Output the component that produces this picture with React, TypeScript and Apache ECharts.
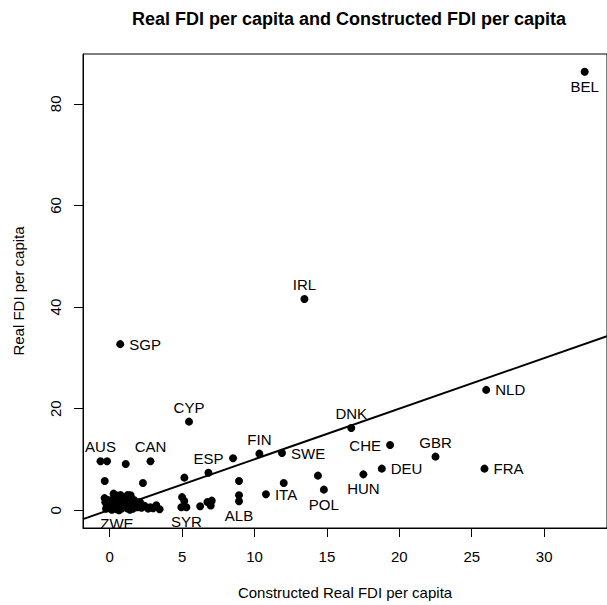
import React, { useEffect, useRef } from "react";
import * as echarts from "echarts";

// Axis ticks
const xTicks = [0, 5, 10, 15, 20, 25, 30];
const yTicks = [0, 20, 40, 60, 80];
const X_MIN = -1.84;
const X_MAX = 34.34;
const Y_MIN = -3.48;
const Y_MAX = 89.8;

// Fitted line y = intercept + slope * x
const lineIntercept = 0.1;
const lineSlope = 0.995;

// Labelled countries
const labeledNames = ["BEL", "IRL", "SGP", "CYP", "NLD", "DNK", "CHE", "GBR", "DEU", "FRA", "HUN", "POL", "SWE", "FIN", "ESP", "ITA", "ALB", "SYR", "ZWE", "AUS", "CAN"];
const labeledX = [32.8, 13.45, 0.73, 5.48, 26.0, 16.68, 19.36, 22.5, 18.79, 25.88, 17.52, 14.79, 11.9, 10.34, 6.82, 10.79, 8.93, 5.3, 0.5, -0.63, 2.82];
const labeledY = [86.3, 41.6, 32.7, 17.45, 23.7, 16.2, 12.85, 10.56, 8.2, 8.2, 7.08, 4.07, 11.27, 11.15, 7.4, 3.15, 1.77, 0.6, 0.2, 9.64, 9.64];
const labeledSide = ["bottom", "top", "right", "top", "right", "top", "left", "top", "right", "right", "bottom", "bottom", "right", "top", "top", "right", "bottom", "bottom", "bottom", "top", "top"];

// Unlabelled countries
const otherX = [
  -0.18, 1.11, 8.52, -0.34, 2.3, 5.16, 8.93, 12.02, 14.38, 8.93,
  5.0, 5.15, 4.95, 6.25, 6.75, 7.05, 6.98,
  -0.35, -0.3, -0.2, -0.1, 0.0, 0.1, 0.2, 0.27, 0.3, 0.35,
  0.45, 0.5, 0.55, 0.6, 0.7, 0.75, 0.8, 0.85, 0.9, 1.0,
  1.05, 1.1, 1.2, 1.25, 1.3, 1.45, 1.5, 1.6, 1.7, 1.8,
  1.9, 2.0, 2.09, 2.2, 2.4, 2.66, 2.8, 3.0, 3.22, 3.45,
  0.15, 0.65, 1.4, -0.25
];
const otherY = [
  9.64, 9.1, 10.23, 5.77, 5.37, 6.43, 5.77, 5.37, 6.82, 2.95,
  2.6, 1.85, 0.6, 0.8, 1.64, 1.9, 0.95,
  2.4, 1.6, 0.9, 2.0, 1.3, 0.5, 1.8, 3.28, 2.5, 0.9,
  1.5, 2.9, 0.6, 2.2, 1.1, 3.0, 0.3, 1.9, 2.6, 0.8,
  1.4, 2.3, 0.4, 3.0, 1.7, 2.95, 1.0, 0.3, 2.0, 1.3,
  0.6, 1.1, 1.64, 0.5, 0.9, 0.33, 0.6, 0.4, 0.98, 0.2,
  0.1, 0.0, 0.1, 0.3
];

const FONT = "Liberation Sans, Arial, Helvetica, sans-serif";

export default function App() {
  const ref = useRef<HTMLDivElement>(null);
  useEffect(() => {
    if (!ref.current) return;
    const chart = echarts.init(ref.current, undefined, { renderer: "svg" });

    const sideDist: Record<string, number> = { top: 3, bottom: 3, left: 5, right: 5 };
    const labeledData = labeledNames.map((n, i) => ({
      name: n,
      value: [labeledX[i], labeledY[i]],
      label: {
        show: true,
        position: labeledSide[i],
        distance: sideDist[labeledSide[i]],
        formatter: n,
      },
    }));
    const otherData = otherX.map((x, i) => [x, otherY[i]]);

    chart.setOption({
      animation: false,
      backgroundColor: "#fff",
      textStyle: { fontFamily: FONT },
      graphic: [
        {
          type: "text",
          x: 349,
          y: 19,
          style: {
            text: "Real FDI per capita and Constructed FDI per capita",
            font: `bold 18px ${FONT}`,
            fill: "#000",
            textAlign: "center",
            textVerticalAlign: "middle",
          },
        },
      ],
      grid: {
        left: 83,
        top: 54,
        width: 532,
        height: 474,
        show: true,
        borderColor: "#000",
        borderWidth: 1,
        backgroundColor: "transparent",
      },
      xAxis: {
        type: "value",
        min: X_MIN,
        max: X_MAX,
        name: "Constructed Real FDI per capita",
        nameLocation: "middle",
        nameGap: 57,
        nameTextStyle: { fontSize: 15, color: "#000", fontFamily: FONT },
        axisLine: { show: true, onZero: false, lineStyle: { color: "#000", width: 1 } },
        axisTick: { show: true, length: 9, customValues: xTicks, lineStyle: { color: "#000" } },
        axisLabel: { customValues: xTicks, fontSize: 15, color: "#000", margin: 21, fontFamily: FONT },
        splitLine: { show: false },
      },
      yAxis: {
        type: "value",
        min: Y_MIN,
        max: Y_MAX,
        name: "Real FDI per capita",
        nameLocation: "middle",
        nameGap: 57,
        nameRotate: 90,
        nameTextStyle: { fontSize: 15, color: "#000", fontFamily: FONT },
        axisLine: { show: true, onZero: false, lineStyle: { color: "#000", width: 1 } },
        axisTick: { show: true, length: 9, customValues: yTicks, lineStyle: { color: "#000" } },
        axisLabel: { customValues: yTicks, fontSize: 15, color: "#000", margin: 20, rotate: 90, fontFamily: FONT },
        splitLine: { show: false },
      },
      series: [
        {
          type: "scatter",
          symbol: "circle",
          symbolSize: 8,
          itemStyle: { color: "#000", opacity: 1 },
          data: otherData,
          z: 3,
        },
        {
          type: "scatter",
          symbol: "circle",
          symbolSize: 8,
          itemStyle: { color: "#000", opacity: 1 },
          label: { color: "#000", fontSize: 15, fontFamily: FONT },
          data: labeledData,
          z: 3,
        },
        {
          type: "line",
          symbol: "none",
          lineStyle: { color: "#000", width: 2 },
          data: [
            [X_MIN, lineIntercept + lineSlope * X_MIN],
            [X_MAX, lineIntercept + lineSlope * X_MAX],
          ],
          z: 4,
        },
      ],
    });
    return () => chart.dispose();
  }, []);
  return (
    <div
      ref={ref}
      style={{ position: "absolute", left: 0, top: 0, width: 607, height: 605 }}
    />
  );
}
